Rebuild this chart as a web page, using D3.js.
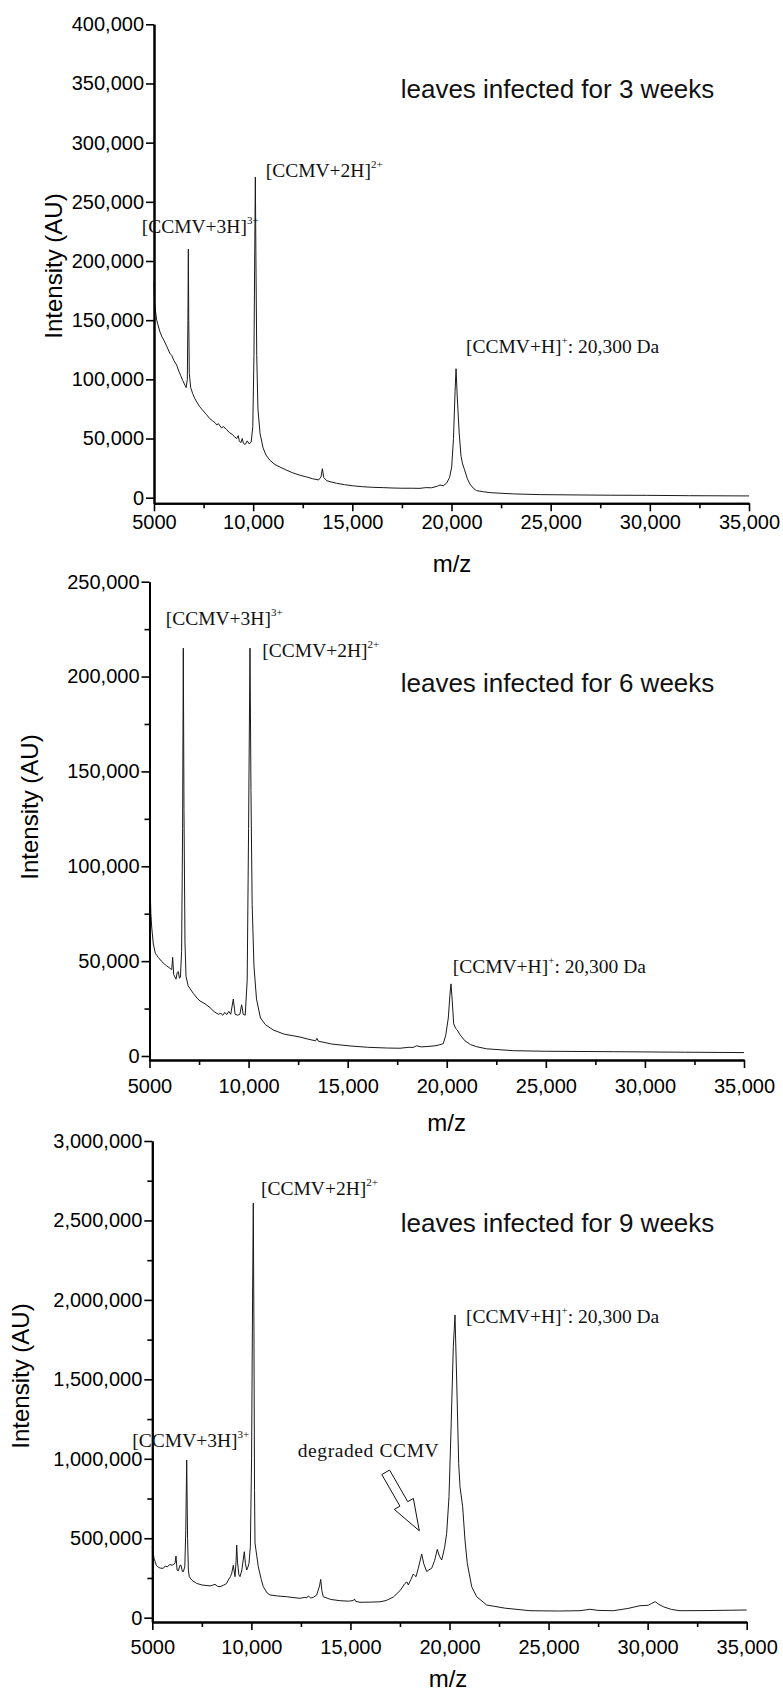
<!DOCTYPE html>
<html><head><meta charset="utf-8">
<script src="https://cdn.jsdelivr.net/npm/d3@7"></script>
<style>
html,body{margin:0;padding:0;background:#fff;}
svg{display:block;}
</style></head><body>
<svg id="chart" width="783" height="1693"></svg>
<script>
// ---------------- DATA ----------------
const xTicks = [5000, 10000, 15000, 20000, 25000, 30000, 35000];
const xTickLabels = ["5000", "10,000", "15,000", "20,000", "25,000", "30,000", "35,000"];
const xMinorTicks = [7500, 12500, 17500, 22500, 27500, 32500];

const yTicks3w = [0, 50000, 100000, 150000, 200000, 250000, 300000, 350000, 400000];
const yTicks6w = [0, 50000, 100000, 150000, 200000, 250000];
const yMinor6w = [25000, 75000, 125000, 175000, 225000];
const yTicks9w = [0, 500000, 1000000, 1500000, 2000000, 2500000, 3000000];
const yMinor9w = [250000, 750000, 1250000, 1750000, 2250000, 2750000];

const titles = ["leaves infected for 3 weeks", "leaves infected for 6 weeks", "leaves infected for 9 weeks"];

// [m/z, intensity]
const spectrum3w = [
  [5000,182000],[5030,165000],[5080,157000],[5136,150000],[5200,146000],[5303,140000],[5400,136000],
  [5500,133000],[5640,128000],[5800,122000],[5900,120000],[6000,116000],[6145,112000],[6250,107000],
  [6350,103000],[6450,99000],[6563,95000],[6620,93000],[6680,100000],[6710,150000],[6732,210000],
  [6752,150000],[6780,105000],[6850,93000],[6950,88000],[7050,84000],[7150,81000],[7300,77000],
  [7450,74000],[7657,70000],[7800,67000],[7950,65000],[8100,63000],[8160,61500],[8250,62500],
  [8400,59000],[8500,60000],[8665,57500],[8800,55000],[8950,53500],[9050,51500],[9170,50000],
  [9250,52500],[9300,48000],[9380,46500],[9450,50000],[9506,46000],[9600,45000],[9700,48000],
  [9800,45500],[9900,47000],[9980,60000],[10040,120000],[10080,210000],[10110,271000],[10140,200000],
  [10180,120000],[10240,75000],[10350,54000],[10500,42000],[10650,36000],[10850,31500],[11100,28000],
  [11400,25500],[11690,23200],[12000,21000],[12350,19000],[12700,17500],[13000,16000],[13300,15000],
  [13420,17500],[13490,24500],[13560,17000],[13700,14500],[13880,13500],[14200,12200],[14600,11000],
  [15050,10000],[15500,9300],[16000,8800],[16560,8500],[17000,8200],[17500,8000],[18000,8000],
  [18410,7900],[18700,8500],[19000,8400],[19300,9800],[19420,10700],[19600,10200],[19760,12500],
  [19900,17000],[20010,26000],[20100,50000],[20180,90000],[20230,109000],[20290,85000],[20390,54000],
  [20480,35000],[20560,28500],[20650,24000],[20800,16000],[20930,11500],[21100,8000],[21260,6000],
  [21610,5000],[22000,4200],[23120,3200],[24500,2600],[26480,2300],[28000,2100],[29840,2000],
  [32000,1700],[35000,1500]
];

const spectrum6w = [
  [5000,125000],[5030,90000],[5070,75000],[5111,68000],[5192,59000],[5300,54000],[5444,52000],
  [5600,50000],[5750,48500],[5868,47500],[6000,46500],[6120,45500],[6170,52000],[6220,43000],
  [6337,40500],[6400,44000],[6453,44500],[6510,41000],[6560,41500],[6620,55000],[6670,120000],
  [6706,215000],[6740,130000],[6790,60000],[6842,42000],[6950,37000],[7210,33000],[7400,30500],
  [7548,29000],[7800,27500],[8053,25500],[8250,23500],[8472,22000],[8600,22500],[8700,21500],
  [8800,23000],[8895,21800],[9000,23500],[9100,22000],[9229,30000],[9320,22000],[9450,21500],
  [9560,22000],[9650,27000],[9730,22000],[9830,21500],[9930,40000],[10000,120000],[10071,215000],
  [10120,140000],[10180,80000],[10273,47000],[10400,30000],[10600,20000],[10850,16500],[11247,13700],
  [11800,11500],[12594,10000],[13000,8900],[13380,8000],[13450,9300],[13520,7800],[14200,6300],
  [15117,5300],[16000,4600],[17000,4200],[17640,4100],[18100,4600],[18300,4500],[18484,5400],
  [18700,4800],[19000,5000],[19356,5300],[19600,5800],[19826,6500],[19950,11000],[20078,20000],
  [20160,32000],[20214,38000],[20270,30000],[20350,17000],[20450,14500],[20533,13700],[20650,11500],
  [20800,9500],[20920,8000],[21200,6000],[21510,4900],[22000,3800],[23358,2800],[25000,2500],
  [28400,2270],[32000,2000],[35000,1800]
];

const spectrum9w = [
  [5000,447000],[5030,420000],[5086,374000],[5200,330000],[5303,318000],[5400,312000],[5555,311000],
  [5650,325000],[5750,320000],[5893,335000],[6000,330000],[6146,342000],[6196,388000],[6250,300000],
  [6312,295000],[6400,330000],[6449,330000],[6520,290000],[6565,289000],[6640,320000],[6690,550000],
  [6736,992000],[6780,500000],[6820,300000],[6867,258000],[7000,235000],[7241,216000],[7500,206000],
  [7912,200000],[8050,205000],[8165,210000],[8300,197000],[8417,195000],[8600,205000],[8750,215000],
  [8836,237000],[8950,260000],[9007,279000],[9088,330000],[9174,258000],[9230,360000],[9260,457000],
  [9300,350000],[9370,270000],[9427,258000],[9520,300000],[9643,415000],[9700,340000],[9764,300000],
  [9830,320000],[9880,342000],[9950,450000],[10010,1000000],[10060,2000000],[10097,2610000],
  [10130,1800000],[10160,800000],[10183,470000],[10350,321000],[10500,240000],[10602,195000],
  [10800,155000],[10940,143000],[11300,137000],[11783,132000],[12100,127000],[12454,122000],
  [12700,128000],[12800,125000],[12873,137000],[13000,124000],[13126,128000],[13297,143000],
  [13440,200000],[13499,241000],[13560,170000],[13630,132000],[14000,115000],[14473,107000],
  [14900,104000],[15147,108000],[15200,118000],[15260,103000],[15483,97000],[16000,98000],
  [16490,100000],[16800,108000],[17163,130000],[17500,170000],[17754,216000],[17850,225000],
  [17921,206000],[18050,240000],[18173,275000],[18250,265000],[18309,258000],[18425,311000],
  [18597,401000],[18700,340000],[18849,290000],[18950,300000],[19101,311000],[19250,360000],
  [19384,430000],[19500,385000],[19606,363000],[19750,440000],[19858,531000],[19975,761000],
  [20076,1181000],[20192,1705000],[20278,1905000],[20362,1496000],[20463,971000],[20530,824000],
  [20665,698000],[20781,489000],[20898,342000],[21120,195000],[21372,132000],[21877,80000],
  [22800,60000],[24063,44000],[25500,42000],[26587,44000],[27090,53000],[27500,46000],[28266,44000],
  [29000,58000],[29614,75500],[30033,78000],[30200,90000],[30386,101000],[30550,85000],[30790,69000],
  [31200,52000],[31633,44000],[33000,45000],[35000,48500]
];

// ---------------- LAYOUT ----------------
const svg = d3.select("#chart");
const SANS = "'Liberation Sans', Arial, sans-serif";
const SERIF = "'Liberation Serif', 'Times New Roman', serif";

const panels = [
  { data: spectrum3w, ymax: 400000, yTicks: yTicks3w, yMinor: [],
    x0: 154, x1: 749, zeroPx: 497.7, topPx: 24.3, axisPx: 503.3, xPad: 4,
    title: titles[0], titlePos: [400.7, 98.3],
    ylab: [62, 266], xlab: [452, 571.5],
    ann: [
      {x: 141.7, y: 233, main: "[CCMV+3H]", sup: "3+"},
      {x: 265.7, y: 176.7, main: "[CCMV+2H]", sup: "2+"},
      {x: 466, y: 353.3, main: "[CCMV+H]", sup: "+", tail: ": 20,300 Da"}
    ] },
  { data: spectrum6w, ymax: 250000, yTicks: yTicks6w, yMinor: yMinor6w,
    x0: 149.5, x1: 744, zeroPx: 1056, topPx: 581.7, axisPx: 1060, xPad: 11,
    title: titles[1], titlePos: [400.7, 691.7],
    ylab: [37.5, 807], xlab: [446.7, 1131],
    ann: [
      {x: 165.7, y: 625, main: "[CCMV+3H]", sup: "3+"},
      {x: 262.3, y: 656.7, main: "[CCMV+2H]", sup: "2+"},
      {x: 452.7, y: 973.3, main: "[CCMV+H]", sup: "+", tail: ": 20,300 Da"}
    ] },
  { data: spectrum9w, ymax: 3000000, yTicks: yTicks9w, yMinor: yMinor9w,
    x0: 152.3, x1: 746.7, zeroPx: 1617.7, topPx: 1141, axisPx: 1622, xPad: 10,
    title: titles[2], titlePos: [400.7, 1232],
    ylab: [29, 1376], xlab: [448, 1687],
    ann: [
      {x: 261, y: 1195, main: "[CCMV+2H]", sup: "2+"},
      {x: 132.3, y: 1446.7, main: "[CCMV+3H]", sup: "3+"},
      {x: 466, y: 1323.3, main: "[CCMV+H]", sup: "+", tail: ": 20,300 Da"},
      {x: 297.7, y: 1457.3, main: "degraded CCMV", spacing: 0.6}
    ],
    arrow: {tail: [16780, 915000], tip: [18475, 547000]} }
];

const fmt = d3.format(",");

panels.forEach(p => {
  const g = svg.append("g");
  const x = d3.scaleLinear().domain([5000, 35000]).range([p.x0, p.x1]);
  const y0 = d3.scaleLinear().domain([0, p.ymax]).range([p.zeroPx, p.topPx]);
  const ymin = y0.invert(p.axisPx);
  const y = d3.scaleLinear().domain([ymin, p.ymax]).range([p.axisPx, p.topPx]);

  // spectrum line
  const line = d3.line().x(d => x(d[0])).y(d => y(d[1]));
  g.append("path").datum(p.data)
    .attr("d", line).attr("fill", "none")
    .attr("stroke", "#1a1a1a").attr("stroke-width", 1)
    .attr("stroke-linejoin", "round");

  // x axis
  const xAxis = d3.axisBottom(x).tickValues(xTicks)
    .tickFormat((d, i) => xTickLabels[i]).tickSize(8).tickSizeOuter(0).tickPadding(p.xPad);
  const gx = g.append("g").attr("transform", `translate(0,${p.axisPx})`).call(xAxis);
  const gxm = g.append("g").attr("transform", `translate(0,${p.axisPx})`)
    .call(d3.axisBottom(x).tickValues(xMinorTicks).tickFormat("").tickSize(5).tickSizeOuter(0));

  // y axis
  const yAxis = d3.axisLeft(y).tickValues(p.yTicks).tickFormat(fmt)
    .tickSize(8).tickSizeOuter(0).tickPadding(2);
  const gy = g.append("g").attr("transform", `translate(${p.x0},0)`).call(yAxis);
  const gym = g.append("g").attr("transform", `translate(${p.x0},0)`)
    .call(d3.axisLeft(y).tickValues(p.yMinor).tickFormat("").tickSize(5).tickSizeOuter(0));

  [gx, gxm, gy, gym].forEach(a => {
    a.select(".domain").attr("stroke", "#000").attr("stroke-width", 2);
    a.selectAll(".tick line").attr("stroke", "#000").attr("stroke-width", 1.6);
    a.selectAll(".tick text").attr("font-family", SANS).attr("font-size", 20).attr("fill", "#000");
  });

  // axis titles
  g.append("text").attr("transform", `translate(${p.ylab[0]},${p.ylab[1]}) rotate(-90)`)
    .attr("text-anchor", "middle").attr("font-family", SANS).attr("font-size", 24)
    .attr("fill", "#000").text("Intensity (AU)");
  g.append("text").attr("x", p.xlab[0]).attr("y", p.xlab[1])
    .attr("text-anchor", "middle").attr("font-family", SANS).attr("font-size", 24)
    .attr("fill", "#000").text("m/z");

  // panel title
  g.append("text").attr("x", p.titlePos[0]).attr("y", p.titlePos[1])
    .attr("font-family", SANS).attr("font-size", 26).attr("fill", "#111").text(p.title);

  // annotations
  p.ann.forEach(a => {
    const t = g.append("text").attr("x", a.x).attr("y", a.y)
      .attr("font-family", SERIF).attr("font-size", 19.5).attr("fill", "#111");
    if (a.spacing) t.attr("letter-spacing", a.spacing);
    t.append("tspan").text(a.main);
    if (a.sup) t.append("tspan").attr("dy", -9).attr("font-size", 11).text(a.sup);
    if (a.tail) t.append("tspan").attr("dy", 9).attr("font-size", 19.5).text(a.tail);
  });

  // hollow arrow
  if (p.arrow) {
    const tx = x(p.arrow.tail[0]), ty = y(p.arrow.tail[1]);
    const hx = x(p.arrow.tip[0]), hy = y(p.arrow.tip[1]);
    const L = Math.hypot(hx - tx, hy - ty);
    const ux = (hx - tx) / L, uy = (hy - ty) / L;
    const nx = -uy, ny = ux;
    const sw = 4.5, hw = 11, hl = 31;
    const bx = hx - ux * hl, by = hy - uy * hl;
    const pts = [
      [tx + nx * sw, ty + ny * sw], [bx + nx * sw, by + ny * sw], [bx + nx * hw, by + ny * hw],
      [hx, hy],
      [bx - nx * hw, by - ny * hw], [bx - nx * sw, by - ny * sw], [tx - nx * sw, ty - ny * sw]
    ];
    g.append("path").attr("d", "M" + pts.map(q => q.join(",")).join("L") + "Z")
      .attr("fill", "#fff").attr("stroke", "#111").attr("stroke-width", 1);
  }
});
</script>
</body></html>
